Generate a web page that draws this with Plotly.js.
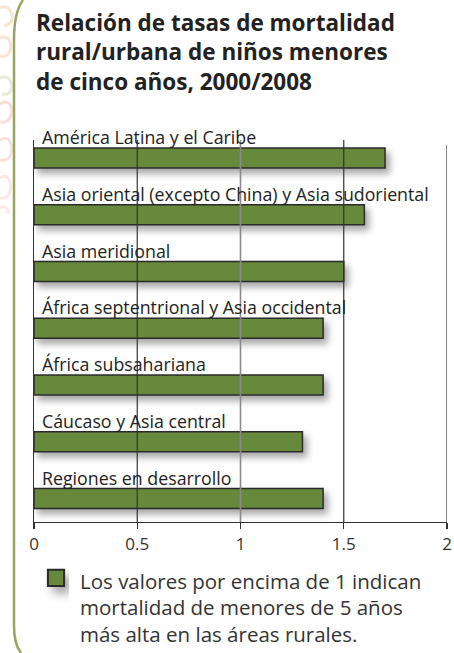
<!DOCTYPE html>
<html>
<head>
<meta charset="utf-8">
<script src="https://cdn.plot.ly/plotly-3.0.1.min.js"></script>
<style>
  html, body { margin: 0; padding: 0; background: #ffffff; }
  #wrap { position: relative; width: 454px; height: 653px; overflow: hidden; }
  #deco { position: absolute; left: 0; top: 0; }
  #chart { position: absolute; left: 0; top: 0; width: 454px; height: 653px; }
</style>
</head>
<body>
<div id="wrap">
  <svg id="deco" width="454" height="653">
    <g fill="none" stroke-width="3" opacity="0.75">
      <path d="M0,8 Q8,4 12,14 Q14,24 4,26" stroke="#f5dcc4"/>
      <path d="M0,38 Q9,34 11,46 Q10,58 0,56" stroke="#f5dcc4"/>
      <path d="M0,78 Q10,74 12,86 Q11,96 2,94" stroke="#dfe6cd"/>
      <path d="M0,104 Q10,98 12,110 Q11,124 0,122" stroke="#f6d2cb"/>
      <path d="M0,140 Q10,134 12,148 Q11,162 0,160" stroke="#f8d6d0"/>
      <path d="M0,178 Q9,172 11,186 Q10,200 0,198" stroke="#fae0db"/>
      <path d="M0,208 Q7,204 9,214" stroke="#fbe6e2"/>
    </g>
    <path d="M23,0 Q14,12 14,40 L14,626 Q14,644 21,653" fill="none" stroke="#9aa35f" stroke-width="2.5"/>
  </svg>
  <div id="chart"></div>
</div>
<script>
// ---- data ----
const categories = [
  "América Latina y el Caribe",
  "Asia oriental (excepto China) y Asia sudoriental",
  "Asia meridional",
  "África septentrional y Asia occidental",
  "África subsahariana",
  "Cáucaso y Asia central",
  "Regiones en desarrollo"
];
const ratios = [1.7, 1.6, 1.5, 1.4, 1.4, 1.3, 1.4];
const tickVals = [0, 0.5, 1, 1.5, 2];
const tickText = ["0", "0.5", "1", "1.5", "2"];
const titleLines = [
  "Relación de tasas de mortalidad",
  "rural/urbana de niños menores",
  "de cinco años, 2000/2008"
];
const legendText = "Los valores por encima de 1 indican<br>mortalidad de menores de 5 años<br>más alta en las áreas rurales.";

// ---- layout helpers (pixel -> paper) ----
const W = 454, H = 653;
const M = { l: 34, r: 7, t: 140, b: 131, autoexpand: false };
const plotW = W - M.l - M.r, plotH = H - M.t - M.b;
const px = x => (x - M.l) / plotW;
const py = y => (H - M.b - y) / plotH;

const FONT = "'Open Sans', 'DejaVu Sans', sans-serif";
const green = "#66893a";

const trace = {
  type: "bar",
  orientation: "h",
  y: categories,
  x: ratios,
  width: 0.35,
  marker: { color: green, line: { color: "#2b2b2b", width: 1.5 } },
  name: legendText,
  showlegend: true,
  hoverinfo: "x+y"
};

const annotations = [];
titleLines.forEach((t, i) => {
  annotations.push({
    text: "<b>" + t + "</b>",
    xref: "paper", yref: "paper",
    x: px(34), y: py(23 + i * 29),
    xanchor: "left", yanchor: "middle",
    showarrow: false,
    font: { family: FONT, size: 22.5, color: "#222222" }
  });
});
categories.forEach(c => {
  annotations.push({
    text: c,
    xref: "paper", yref: "y",
    x: px(40), y: c,
    yshift: 21,
    xanchor: "left", yanchor: "middle",
    showarrow: false,
    font: { family: FONT, size: 17.8, color: "#222222" }
  });
});

const gridColors = { 0.5: "#333333", 1: "#8a8a8a", 1.5: "#333333", 2: "#333333" };
const shapes = tickVals.filter(v => v > 0).map(v => ({
  type: "line", xref: "x", yref: "paper",
  x0: v, x1: v, y0: 0, y1: v === 2 ? py(145) : 1,
  layer: "above",
  line: { color: gridColors[v], width: v === 1 ? 1.6 : 1.2 }
}));

const layout = {
  width: W, height: H,
  margin: M,
  paper_bgcolor: "rgba(0,0,0,0)",
  plot_bgcolor: "rgba(0,0,0,0)",
  font: { family: FONT, color: "#333333" },
  bargap: 0,
  xaxis: {
    range: [0, 2],
    tickvals: tickVals,
    ticktext: tickText,
    showgrid: false,
    zeroline: false,
    showline: true,
    linecolor: "#333333",
    linewidth: 1.2,
    ticks: "outside",
    ticklen: 6,
    tickwidth: 1.2,
    tickcolor: "#333333",
    tickfont: { family: FONT, size: 17, color: "#333333" },
    automargin: false,
    fixedrange: true
  },
  yaxis: {
    type: "category",
    range: [6.414, -0.317],
    showticklabels: false,
    ticks: "",
    showgrid: false,
    zeroline: false,
    showline: true,
    linecolor: "#333333",
    linewidth: 1.2,
    layer: "above traces",
    automargin: false,
    fixedrange: true
  },
  showlegend: true,
  legend: {
    x: px(40), y: py(561),
    xanchor: "left", yanchor: "top",
    bgcolor: "rgba(0,0,0,0)",
    valign: "top",
    font: { family: FONT, size: 20.5, color: "#333333" },
    itemclick: false, itemdoubleclick: false
  },
  annotations: annotations,
  shapes: shapes
};

Plotly.newPlot("chart", [trace], layout, { displayModeBar: false, staticPlot: true }).then(gd => {
  const svg = gd.querySelector(".main-svg");
  const ns = "http://www.w3.org/2000/svg";
  let defs = svg.querySelector("defs");
  if (!defs) { defs = document.createElementNS(ns, "defs"); svg.insertBefore(defs, svg.firstChild); }
  const f = document.createElementNS(ns, "filter");
  f.setAttribute("id", "barShadow");
  f.setAttribute("x", "-30%"); f.setAttribute("y", "-60%");
  f.setAttribute("width", "160%"); f.setAttribute("height", "260%");
  const ds = document.createElementNS(ns, "feDropShadow");
  ds.setAttribute("dx", "4"); ds.setAttribute("dy", "5");
  ds.setAttribute("stdDeviation", "3.5");
  ds.setAttribute("flood-color", "#000");
  ds.setAttribute("flood-opacity", "0.35");
  f.appendChild(ds); defs.appendChild(f);
  gd.querySelectorAll(".bars .point path").forEach(p => p.setAttribute("filter", "url(#barShadow)"));
  gd.querySelectorAll(".legend .legendpoints path").forEach(p => {
    const t = p.getAttribute("transform") || "";
    p.setAttribute("transform", t + " translate(-4,-3) scale(1.35)");
    p.setAttribute("filter", "url(#barShadow)");
  });
});
</script>
</body>
</html>
